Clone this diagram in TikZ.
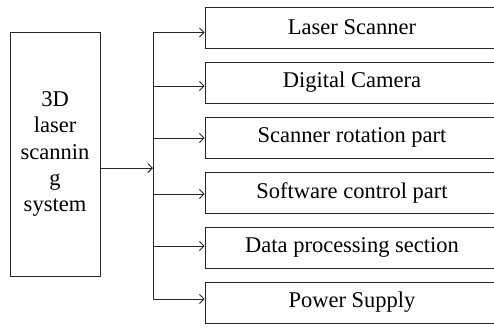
\documentclass[tikz,border=0pt]{standalone}
\usepackage{fontspec}
\setmainfont{Liberation Serif}
\usetikzlibrary{arrows.meta}
\begin{document}
\begin{tikzpicture}[x=1pt,y=-1pt,
  box/.style={draw=black!85, line width=0.9pt, inner sep=0pt, font=\fontsize{22.5}{26.25}\selectfont},
  part/.style={box, minimum width=294pt, minimum height=41pt},
  conn/.style={draw=black!85, line width=0.9pt},
  arr/.style={conn, -{Straight Barb[length=4.5pt,width=9pt,line width=0.9pt]}}]
\useasboundingbox (0,0) rectangle (494,327);
\clip (0,0) rectangle (494,327);
\node[box, minimum width=90pt, minimum height=244pt, align=center] (sys) at (55,154)
  {3D\\laser\\scannin\\g\\system};
\node[part] (b1) at (352,27.5) {Laser Scanner};
\node[part] (b2) at (352,82.5) {Digital Camera};
\node[part] (b3) at (352,137.5) {Scanner rotation part};
\node[part] (b4) at (352,192.5) {Software control part};
\node[part] (b5) at (352,247.5) {Data processing section};
\node[part] (b6) at (352,302.5) {Power Supply};
\coordinate (s0) at (100,168);
\coordinate (j0) at (153,168);
\coordinate (j1) at (153,32.5);
\coordinate (j2) at (153,86);
\coordinate (j3) at (153,138);
\coordinate (j4) at (153,194);
\coordinate (j5) at (153,246);
\coordinate (j6) at (153,299);
\draw[arr] (s0) -- (j0);
\draw[conn] (j1) -- (j6);
\foreach \i in {1,...,6} \draw[arr] (j\i) -- (j\i -| b\i.west);
\end{tikzpicture}
\end{document}
